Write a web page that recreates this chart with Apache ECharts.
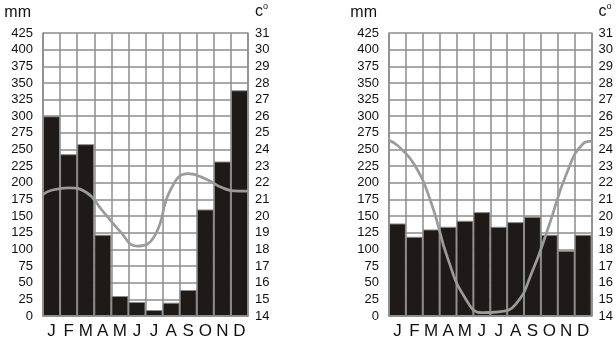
<!DOCTYPE html>
<html><head><meta charset="utf-8">
<script src="https://cdn.jsdelivr.net/npm/echarts@6/dist/echarts.min.js"></script>
<style>html,body{margin:0;padding:0;background:#fff}#c{width:616px;height:343px}</style>
</head><body><div id="c"></div>
<script>
const months = ['J','F','M','A','M','J','J','A','S','O','N','D'];
const mmTicks = {min: 0, max: 425, interval: 25};
const tempTicks = {min: 14, max: 31, interval: 1};
const rainLeft = [300, 243, 258, 122, 30, 21, 9, 20, 39, 160, 232, 339];
const tempLeft = [21.55, 21.7, 21.45, 20.3, 19.1, 18.2, 18.75, 21.65, 22.55, 22.25, 21.7, 21.5];
const tempLeftEdges = [21.3, 21.5];
const rainRight = [139, 119, 130, 134, 143, 156, 134, 141, 149, 122, 98, 122];
const tempRight = [24.25, 23.1, 20.8, 17.4, 15.1, 14.2, 14.25, 14.7, 16.7, 19.5, 22.5, 24.35];
const tempRightEdges = [24.55, 24.5];

const GRID = '#8c8c8c';
const FONT = 'Liberation Sans, Arial, sans-serif';

function lineData(temps, edges){
  const d = [[0, edges[0]]];
  temps.forEach((t,i)=>d.push([i+0.5, t]));
  d.push([temps.length, edges[1]]);
  return d;
}

const grids = [
  {left: 43, top: 33, width: 205, height: 283},
  {left: 389, top: 33, width: 206, height: 283}
];

const xAxis = [], yAxis = [], series = [];
[[rainLeft, tempLeft, tempLeftEdges],[rainRight, tempRight, tempRightEdges]].forEach((set, g)=>{
  xAxis.push({
    type: 'category', gridIndex: g, data: months, boundaryGap: true,
    axisLine: {show: true, lineStyle: {color: GRID, width: 1.5}},
    axisTick: {show: false},
    axisLabel: {color: '#111', fontFamily: FONT, fontSize: 17, margin: 7, interval: 0},
    splitLine: {show: true, interval: 0, lineStyle: {color: GRID, width: 1.5}}
  });
  xAxis.push({
    type: 'value', gridIndex: g, min: 0, max: 12, show: false,
    splitLine: {show: false}
  });
  yAxis.push({
    type: 'value', gridIndex: g, position: 'left',
    min: mmTicks.min, max: mmTicks.max, interval: mmTicks.interval,
    name: 'mm', nameLocation: 'end', nameGap: 12,
    nameTextStyle: {color: '#111', fontFamily: FONT, fontSize: 16, align: 'right', padding: [0, 12, 0, 0]},
    axisLine: {show: true, lineStyle: {color: GRID, width: 1.5}},
    axisTick: {show: false},
    axisLabel: {color: '#111', fontFamily: FONT, fontSize: 13, margin: 10},
    splitLine: {show: true, lineStyle: {color: GRID, width: 1.5}}
  });
  yAxis.push({
    type: 'value', gridIndex: g, position: 'right',
    min: tempTicks.min, max: tempTicks.max, interval: tempTicks.interval,
    name: 'c{s|o}', nameLocation: 'end', nameGap: 12,
    nameTextStyle: {color: '#111', fontFamily: FONT, fontSize: 16, align: 'left', padding: [0, 0, 0, 7],
      rich: {s: {fontSize: 9, fontFamily: FONT, color: '#111', verticalAlign: 'top', padding: [0,0,10,0]}}},
    axisLine: {show: true, lineStyle: {color: GRID, width: 1.5}},
    axisTick: {show: false},
    axisLabel: {color: '#111', fontFamily: FONT, fontSize: 13, margin: 7},
    splitLine: {show: false}
  });
  series.push({
    type: 'bar', xAxisIndex: g*2, yAxisIndex: g*2, data: set[0],
    barCategoryGap: '0%',
    itemStyle: {color: '#1e1a17', borderColor: GRID, borderWidth: 1},
    silent: true, z: 2
  });
  series.push({
    type: 'line', xAxisIndex: g*2+1, yAxisIndex: g*2+1, data: lineData(set[1], set[2]),
    smooth: 0.5, symbol: 'none',
    lineStyle: {color: '#9b9b9b', width: 2.7},
    silent: true, z: 3
  });
});

const chart = echarts.init(document.getElementById('c'), null, {renderer: 'canvas'});
chart.setOption({animation: false, backgroundColor: '#fff', grid: grids, xAxis, yAxis, series});
</script></body></html>
